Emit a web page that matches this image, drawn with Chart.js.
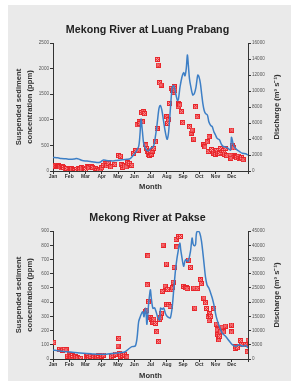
<!DOCTYPE html>
<html>
<head>
<meta charset="utf-8">
<script src="https://cdn.jsdelivr.net/npm/chart.js@4.4.0/dist/chart.umd.min.js"></script>
<style>
  body { margin: 0; background: #fff; width: 295px; height: 385px; position: relative; overflow: hidden; }
  #panel { position: absolute; left: 8px; top: 5px; width: 283px; height: 376px; background: #eaeaea; }
  canvas { position: absolute; left: 0; }
</style>
</head>
<body>
<div id="panel"></div>
<canvas id="luang" width="295" height="195" style="top:0"></canvas>
<canvas id="pakse" width="295" height="190" style="top:195px"></canvas>
<script>
// month axis: 0 = 1 Jan, 12 = 31 Dec
const monthLabels = ['Jan', 'Feb', 'Mar', 'Apr', 'May', 'Jun', 'Jul', 'Aug', 'Sep', 'Oct', 'Nov', 'Dec'];

// Luang Prabang - discharge (m3/s)
const lpFlowMonth = [0, 0.3, 0.5, 0.8, 1.0, 1.3, 1.45, 1.6, 1.8, 2.1, 2.4, 2.7, 2.9, 3.1, 3.3, 3.5, 3.7, 4.0, 4.3, 4.55, 4.75, 4.95,
  5.1, 5.27, 5.35, 5.42, 5.5, 5.58, 5.7, 5.85, 6.0, 6.19, 6.3, 6.4, 6.52, 6.6, 6.7, 6.8, 6.9, 7.02, 7.1, 7.16, 7.25, 7.33, 7.42,
  7.5, 7.57, 7.66, 7.72, 7.82, 7.94, 8.04, 8.12, 8.2, 8.27, 8.33, 8.4, 8.48, 8.6, 8.7, 8.8, 8.91, 8.98, 9.07, 9.15, 9.22, 9.3,
  9.38, 9.5, 9.59, 9.7, 9.8, 9.9, 10.0, 10.1, 10.25, 10.35, 10.45, 10.6, 10.72, 10.85, 10.93, 10.98, 11.03, 11.1, 11.2, 11.34,
  11.5, 11.65, 11.85, 12.0];
const lpFlow = [1700, 1650, 1560, 1520, 1480, 1500, 1560, 1480, 1300, 1250, 1150, 1050, 1100, 1380, 1320, 1280, 1250, 1350, 1400, 1460, 1540, 2000,
  2400, 3040, 4500, 6500, 5000, 3460, 2800, 2500, 2830, 3120, 4300, 5750, 7800, 8200, 7600, 6300, 5000, 3960, 4600, 5960, 8500, 10340, 10700,
  10200, 9500, 8800, 9000, 10540, 11790, 12300, 11900, 12800, 14500, 13200, 11500, 10540, 9500, 9700, 10500, 12000, 11800, 10960, 9600, 8460, 7600,
  7200, 7000, 6160, 5700, 5540, 4910, 4500, 4080, 3875, 3400, 3120, 3000, 2910, 2700, 2620, 4200, 3875, 3300, 2900, 2620,
  2400, 2210, 2150, 2000];

// Luang Prabang - suspended sediment (ppm)
const lpSedMonth = [0.05, 0.12, 0.2, 0.28, 0.35, 0.42, 0.5, 0.58, 0.65, 0.75, 0.85,
  1.0, 1.08, 1.15, 1.25, 1.35, 1.45, 1.55, 1.65, 1.75, 1.85, 1.95,
  2.0, 2.1, 2.2, 2.35, 2.45, 2.6, 2.7, 2.8, 2.9,
  3.0, 3.1, 3.2, 3.3, 3.4, 3.55, 3.8,
  4.03, 4.15, 4.2, 4.3, 4.4, 4.5, 4.6, 4.7, 4.85,
  4.96, 5.1, 5.17, 5.25, 5.3, 5.35, 5.45, 5.5, 5.55, 5.62, 5.72, 5.75, 5.8, 5.85, 5.9, 5.95, 6.0,
  6.05, 6.1, 6.2, 6.3, 6.4, 6.42, 6.47, 6.55, 6.65, 7.0, 7.05, 7.1, 7.16,
  7.28, 7.35, 7.4, 7.45, 7.5, 7.7, 7.75, 7.8, 7.9, 7.98,
  8.4, 8.5, 8.56, 8.66, 8.77, 8.87,
  9.28, 9.35, 9.49, 9.55, 9.6, 9.75, 9.9, 10.0, 10.05, 10.15,
  10.25, 10.3, 10.4, 10.5, 10.55, 10.6, 10.7, 10.9, 10.95,
  11.0, 11.05, 11.1, 11.15, 11.25, 11.3, 11.4, 11.45, 11.55, 11.6, 11.7];
const lpSed = [100, 95, 110, 90, 100, 80, 60, 90, 70, 40, 50,
  30, 20, 40, 25, 10, 30, 50, 35, 60, 40, 55,
  30, 80, 60, 90, 70, 40, 10, 0, 20,
  60, 110, 140, 100, 150, 80, 130,
  300, 290, 120, 70, 100, 80, 160, 150, 110,
  345, 400, 900, 410, 960, 930, 1140, 960, 1160, 1120, 510, 440, 380, 330, 380, 310, 360,
  330, 390, 440, 570, 830, 2180, 2070, 1725, 1680, 1060, 930, 1000, 1320,
  1615, 1580, 1530, 1650, 1580, 1255, 1320, 1290, 1160, 945,
  865, 740, 800, 625, 1255, 1060,
  510, 470, 570, 380, 670, 420, 350, 330, 400, 350,
  340, 440, 360, 400, 330, 440, 300, 310, 250,
  800, 500, 450, 300, 280, 260, 290, 250, 240, 260, 220];

// Pakse - discharge (m3/s)
const pkFlowMonth = [0, 0.4, 0.84, 1.3, 1.87, 2.4, 2.9, 3.2, 3.5, 3.8, 4.1, 4.44, 4.65, 4.86, 5.06, 5.17, 5.27, 5.37, 5.45, 5.53,
  5.6, 5.7, 5.78, 5.88, 5.99, 6.05, 6.15, 6.25, 6.35, 6.46, 6.56, 6.62, 6.72, 6.81, 6.92, 7.02, 7.12, 7.22, 7.33, 7.43,
  7.53, 7.62, 7.7, 7.8, 7.87, 7.94, 8.04, 8.15, 8.31, 8.46, 8.56, 8.62, 8.7, 8.77, 8.83, 8.93, 9.03, 9.14, 9.28, 9.38,
  9.48, 9.59, 9.7, 9.8, 9.9, 10.04, 10.2, 10.41, 10.62, 10.86, 11.03, 11.23, 11.44, 11.69, 11.85, 12.0];
const pkFlow = [3160, 2800, 2570, 2300, 2000, 1800, 1640, 1700, 1870, 2000, 2220, 2570, 3520, 4330, 4570, 7270, 13100, 14870, 16000, 16630,
  14870, 17820, 12200, 18990, 24300, 21340, 17820, 18000, 16500, 14420, 13710, 17930, 17500, 17930, 16000, 15010, 14600, 14420, 17930, 24370,
  30830, 35000, 37860, 40790, 38000, 35510, 32590, 34930, 34350, 37860, 42540, 40500, 39800, 40200, 44300, 44900, 44300, 41380, 34350, 29000,
  26000, 24960, 23200, 21450, 19100, 15010, 12070, 9140, 7970, 6210, 5030, 4450, 5030, 4450, 4800, 3870];

// Pakse - suspended sediment (ppm)
const pkSedMonth = [0.05, 0.4, 0.5, 0.6, 0.7, 0.8, 0.9,
  1.0, 1.05, 1.1, 1.2, 1.3, 1.4, 1.5, 1.6, 1.7,
  2.05, 2.15, 2.2, 2.3, 2.4, 2.5, 2.6, 2.7, 2.8, 2.9, 3.0, 3.1,
  3.6, 3.7, 3.85,
  4.0, 4.05, 4.1, 4.15, 4.25, 4.3, 4.4, 4.5, 4.55,
  5.7, 5.75, 5.8, 5.84, 5.88, 5.99, 6.05, 6.1, 6.15, 6.2, 6.3, 6.38, 6.5, 6.55, 6.6, 6.67, 6.72, 6.77, 6.9, 6.98,
  7.0, 7.05, 7.1, 7.2, 7.3, 7.35, 7.4, 7.45, 7.57, 7.63, 7.73, 7.84,
  8.04, 8.15, 8.2, 8.25, 8.35, 8.46, 8.66, 8.72, 8.87,
  9.07, 9.12, 9.28, 9.38, 9.44, 9.55, 9.6, 9.65, 9.7, 9.9,
  10.05, 10.1, 10.15, 10.2, 10.25, 10.3, 10.4, 10.5, 10.6,
  10.98, 10.98, 11.2, 11.25, 11.35, 11.55, 11.6, 11.85, 11.95, 12.0];
const pkSed = [117, 68, 70, 62, 68, 65, 20,
  30, 28, 15, 25, 10, 15, 8, 0, 5,
  15, 25, 10, 20, 18, 12, 20, 15, 25, 10, 20, 28,
  15, 25, 35,
  91, 145, 40, 20, 35, 25, 30, 20, 15,
  337, 344, 522, 726, 403, 290, 280, 270, 260, 280, 250, 192, 122, 280, 290, 323, 476, 801, 513, 668,
  385, 490, 382, 368, 487, 500, 540, 645, 841, 789, 860, 862,
  511, 500, 500, 495, 696, 645, 499, 358, 497,
  557, 530, 429, 396, 356, 300, 270, 320, 300, 356,
  246, 205, 171, 135, 160, 190, 225, 190, 232,
  239, 190, 75, 85, 80, 130, 100, 100, 51, 133];

const FONT = "'Liberation Sans', Arial, sans-serif";
const AXIS = '#333';

// red square marker with a light cross, like the original
function sedMarker() {
  const c = document.createElement('canvas');
  c.width = 5; c.height = 5;
  const g = c.getContext('2d');
  g.fillStyle = '#e8262b';
  g.fillRect(0, 0, 5, 5);
  g.fillStyle = 'rgba(255,185,185,0.9)';
  [[1, 1], [3, 1], [2, 2], [1, 3], [3, 3]].forEach(p => g.fillRect(p[0], p[1], 1, 1));
  return c;
}
const marker = sedMarker();

// right axis title reads bottom-to-top in the original
const rightTitle = {
  id: 'rightTitle',
  afterDraw(chart, args, opts) {
    const { ctx, chartArea } = chart;
    ctx.save();
    ctx.translate(opts.x, (chartArea.top + chartArea.bottom) / 2);
    ctx.rotate(-Math.PI / 2);
    ctx.font = 'bold 7.6px ' + FONT;
    ctx.fillStyle = AXIS;
    ctx.textAlign = 'center';
    ctx.textBaseline = 'middle';
    ctx.fillText(opts.text, 0, 0);
    ctx.restore();
  }
};

function makeChart(id, cfg) {
  const pts = (xs, ys) => xs.map((x, i) => ({ x: x, y: ys[i] }));
  return new Chart(document.getElementById(id), {
    type: 'scatter',
    data: {
      datasets: [
        {
          type: 'line', label: 'Discharge', data: pts(cfg.flowMonth, cfg.flow), yAxisID: 'y1',
          borderColor: '#3d7fc6', borderWidth: 1.5, pointRadius: 0, tension: 0.3, fill: false
        },
        {
          label: 'SSC', data: pts(cfg.sedMonth, cfg.sed), yAxisID: 'y',
          pointStyle: marker, pointRadius: 2.5
        }
      ]
    },
    options: {
      responsive: false,
      animation: false,
      layout: { padding: { top: 0, left: 0, right: 0, bottom: 0 } },
      plugins: {
        legend: { display: false },
        tooltip: { enabled: false },
        title: {
          display: true, text: cfg.title, color: '#222',
          font: { size: 10.7, weight: 'bold', family: FONT },
          padding: { top: cfg.titleTop, bottom: cfg.titleBottom }
        },
        rightTitle: { x: 276.7, text: 'Discharge (m³ s⁻¹)' }
      },
      scales: {
        x: {
          type: 'linear', min: 0, max: 12,
          afterFit: s => { s.height = cfg.xHeight; },
          ticks: {
            stepSize: 1, autoSkip: false, maxRotation: 0, padding: 0, color: AXIS,
            font: { size: 5, weight: 'bold', family: FONT },
            callback: v => monthLabels[v] || ''
          },
          grid: { drawOnChartArea: false, tickLength: 3, color: AXIS },
          border: { color: AXIS, width: 1 },
          title: {
            display: true, text: 'Month', color: AXIS,
            font: { size: 7.6, weight: 'bold', family: FONT },
            padding: { top: 0, bottom: cfg.monthPad }
          }
        },
        y: {
          position: 'left', min: 0, max: cfg.sedMax,
          afterFit: s => { s.width = 53; },
          ticks: { stepSize: cfg.sedStep, padding: 1, color: '#555', font: { size: 4.6, family: FONT }, callback: v => String(v) },
          grid: { drawOnChartArea: false, tickLength: 3, color: AXIS },
          border: { color: AXIS, width: 1 },
          title: {
            display: true, text: ['Suspended sediment', 'concentration (ppm)'], color: AXIS,
            font: { size: 7.6, weight: 'bold', family: FONT, lineHeight: 1.38 },
            padding: { top: 14 }
          }
        },
        y1: {
          position: 'right', min: 0, max: cfg.flowMax,
          afterFit: s => { s.width = 47; },
          ticks: { stepSize: cfg.flowStep, padding: 1, color: '#555', font: { size: 4.6, family: FONT }, callback: v => String(v) },
          grid: { drawOnChartArea: false, tickLength: 3, color: AXIS },
          border: { color: AXIS, width: 1 }
        }
      }
    },
    plugins: [rightTitle]
  });
}

makeChart('luang', {
  title: 'Mekong River at Luang Prabang', titleTop: 23.6, titleBottom: 6.6,
  flowMonth: lpFlowMonth, flow: lpFlow, sedMonth: lpSedMonth, sed: lpSed,
  sedMax: 2500, sedStep: 500, flowMax: 16000, flowStep: 2000,
  xHeight: 24, monthPad: 3.1
});

makeChart('pakse', {
  title: 'Mekong River at Pakse', titleTop: 16.9, titleBottom: 6.3,
  flowMonth: pkFlowMonth, flow: pkFlow, sedMonth: pkSedMonth, sed: pkSed,
  sedMax: 900, sedStep: 100, flowMax: 45000, flowStep: 5000,
  xHeight: 26, monthPad: 4.7
});
</script>
</body>
</html>
